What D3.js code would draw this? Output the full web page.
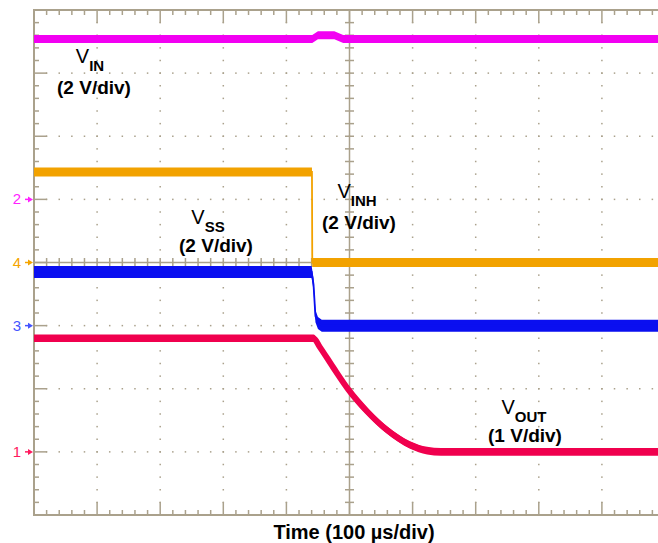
<!DOCTYPE html>
<html>
<head>
<meta charset="utf-8">
<script src="https://cdn.jsdelivr.net/npm/d3@7/dist/d3.min.js"></script>
<style>
  body { margin: 0; background: #fff; }
  svg { display: block; }
  text { font-family: "Liberation Sans", Arial, sans-serif; }
</style>
</head>
<body>
<div id="chart"></div>
<script>
// scope capture: 10 div x 100 us, 8 vertical div
var timeDivs = 10, usPerDiv = 100, vertDivs = 8;

// channel setup (number shown at the left marker, V/div, ground level in div)
var chNumber  = [2, 4, 3, 1];
var chScale   = [2, 2, 2, 1];
var chGround  = [1, 0, -1, -3];
var chColor   = ["#f200f2", "#f2a200", "#0a0ff0", "#f0004e"];
var chMarkCol = ["#ff22ff", "#f5a500", "#4455ff", "#ff1a5e"];

// VIN  (ch2)
var vinTime  = [0, 441, 450, 476, 490, 1000];
var vinVolts = [5.08, 5.08, 5.2, 5.2, 5.08, 5.08];
// VINH (ch4)
var inhTime  = [0, 440.5, 441, 1000];
var inhVolts = [2.87, 2.87, 0, 0];
// VSS  (ch3)
var ssTime  = [0, 440, 443, 446, 450, 456, 1000];
var ssVolts = [1.7, 1.7, 1.3, 0.3, 0.08, 0, 0];
// VOUT (ch1)
var outTime  = [0, 443, 453, 474, 498, 528, 559, 596, 623, 645, 1000];
var outVolts = [1.8, 1.8, 1.66, 1.34, 0.99, 0.64, 0.35, 0.11, 0.02, 0, 0];

var width = 658, height = 543;
var gridCol = "#aaa18c";

var svg = d3.select("#chart").append("svg")
  .attr("width", width)
  .attr("height", height);

svg.append("rect").attr("width", width).attr("height", height).attr("fill", "#fff");

var x = d3.scaleLinear().domain([0, timeDivs * usPerDiv]).range([34, 665]);
var y = d3.scaleLinear().domain([-vertDivs / 2, vertDivs / 2]).range([515, 10]);
var xDiv = d3.scaleLinear().domain([0, timeDivs]).range(x.range());

var grid = svg.append("g");

// dotted grid along the major lines
var minorX = d3.range(0, timeDivs + 0.01, 0.2);
var minorY = d3.range(-4, 4.01, 0.2);
d3.range(1, timeDivs).forEach(function(k){
  if (k == 5) return;
  grid.selectAll(null).data(minorY).enter().append("rect")
    .attr("x", xDiv(k) - 0.75).attr("y", function(d){ return y(d) - 0.75 })
    .attr("width", 1.5).attr("height", 1.5).attr("fill", gridCol);
});
d3.range(-3, 4).forEach(function(k){
  if (k == 0) return;
  grid.selectAll(null).data(minorX).enter().append("rect")
    .attr("x", function(d){ return xDiv(d) - 0.75 }).attr("y", y(k) - 0.75)
    .attr("width", 1.5).attr("height", 1.5).attr("fill", gridCol);
});

// centre cross with small crossbars
grid.append("line").attr("x1", xDiv(5)).attr("x2", xDiv(5)).attr("y1", y(4)).attr("y2", y(-4))
  .attr("stroke", gridCol).attr("stroke-width", 1.5);
grid.append("line").attr("x1", xDiv(0)).attr("x2", xDiv(10)).attr("y1", y(0)).attr("y2", y(0))
  .attr("stroke", gridCol).attr("stroke-width", 1.5);
grid.selectAll(null).data(minorY).enter().append("line")
  .attr("x1", xDiv(5) - 4.5).attr("x2", xDiv(5) + 4.5)
  .attr("y1", function(d){ return y(d) }).attr("y2", function(d){ return y(d) })
  .attr("stroke", gridCol).attr("stroke-width", 1.5);
grid.selectAll(null).data(minorX).enter().append("line")
  .attr("y1", y(0) - 4.5).attr("y2", y(0) + 4.5)
  .attr("x1", function(d){ return xDiv(d) }).attr("x2", function(d){ return xDiv(d) })
  .attr("stroke", gridCol).attr("stroke-width", 1.5);

// edge ticks (long on major divisions)
function isMajor(d){ return Math.abs(d - Math.round(d)) < 0.01 }
grid.selectAll(null).data(minorY).enter().append("line")
  .attr("x1", xDiv(0)).attr("x2", function(d){ return xDiv(0) + (isMajor(d) ? 13 : 5) })
  .attr("y1", function(d){ return y(d) }).attr("y2", function(d){ return y(d) })
  .attr("stroke", gridCol).attr("stroke-width", 1.5);
[y(4), y(-4)].forEach(function(yy, i){
  grid.selectAll(null).data(minorX).enter().append("line")
    .attr("x1", function(d){ return xDiv(d) }).attr("x2", function(d){ return xDiv(d) })
    .attr("y1", yy).attr("y2", function(d){ var l = isMajor(d) ? 13 : 5; return i == 0 ? yy + l : yy - l })
    .attr("stroke", gridCol).attr("stroke-width", 1.5);
});

// frame
grid.append("path")
  .attr("d", "M" + xDiv(10) + "," + y(4) + "H" + xDiv(0) + "V" + y(-4) + "H" + xDiv(10))
  .attr("fill", "none").attr("stroke", gridCol).attr("stroke-width", 2);

// traces
var traces = [
  {t: vinTime, v: vinVolts, ch: 0, h: 4},
  {t: inhTime, v: inhVolts, ch: 1, h: 4.5},
  {t: ssTime,  v: ssVolts,  ch: 2, h: 6},
  {t: outTime, v: outVolts, ch: 3, h: 3.8, smooth: true}
];

traces.forEach(function(tr){
  var pts = tr.t.map(function(t, i){
    return {t: t, d: chGround[tr.ch] + tr.v[i] / chScale[tr.ch]};
  });
  var crv = tr.smooth ? d3.curveMonotoneX : d3.curveLinear;
  var band = d3.area().curve(crv)
    .x(function(d){ return x(d.t) })
    .y0(function(d){ return y(d.d) - tr.h })
    .y1(function(d){ return y(d.d) + tr.h });
  var line = d3.line().curve(crv)
    .x(function(d){ return x(d.t) })
    .y(function(d){ return y(d.d) });
  svg.append("path").datum(pts).attr("d", band).attr("fill", chColor[tr.ch]);
  svg.append("path").datum(pts).attr("d", line)
    .attr("fill", "none").attr("stroke", chColor[tr.ch]).attr("stroke-width", tr.smooth ? 6 : 1.8);
});

// channel ground markers
chNumber.forEach(function(n, i){
  var yy = y(chGround[i]);
  svg.append("text").attr("x", 17).attr("y", yy + 5)
    .attr("text-anchor", "middle").attr("font-size", 15)
    .attr("fill", chMarkCol[i]).text(n);
  svg.append("line").attr("x1", 25).attr("x2", 30).attr("y1", yy).attr("y2", yy)
    .attr("stroke", chMarkCol[i]).attr("stroke-width", 1.5);
  svg.append("path").attr("d", "M28," + (yy - 3) + "L33," + yy + "L28," + (yy + 3) + "Z")
    .attr("fill", chMarkCol[i]);
});

// labels
function label(cx, py, sub, div, dx, dy2){
  var t = svg.append("text").attr("x", cx).attr("y", py)
    .attr("text-anchor", "middle").attr("fill", "#000");
  t.append("tspan").attr("font-size", 20).text("V");
  t.append("tspan").attr("font-size", 15).attr("font-weight", "bold").attr("dy", 8).text(sub);
  svg.append("text").attr("x", cx + dx).attr("y", py + dy2).attr("text-anchor", "middle")
    .attr("font-size", 19).attr("font-weight", "bold").attr("fill", "#000").text(div);
}
label(90, 63, "IN", "(2 V/div)", 4, 31);
label(208, 224, "SS", "(2 V/div)", 8, 28);
label(357, 198, "INH", "(2 V/div)", 2, 31);
label(524, 414, "OUT", "(1 V/div)", 1, 28);

svg.append("text").attr("x", 354).attr("y", 539).attr("text-anchor", "middle")
  .attr("font-size", 20).attr("font-weight", "bold").attr("fill", "#000")
  .text("Time (100 µs/div)");
</script>
</body>
</html>
